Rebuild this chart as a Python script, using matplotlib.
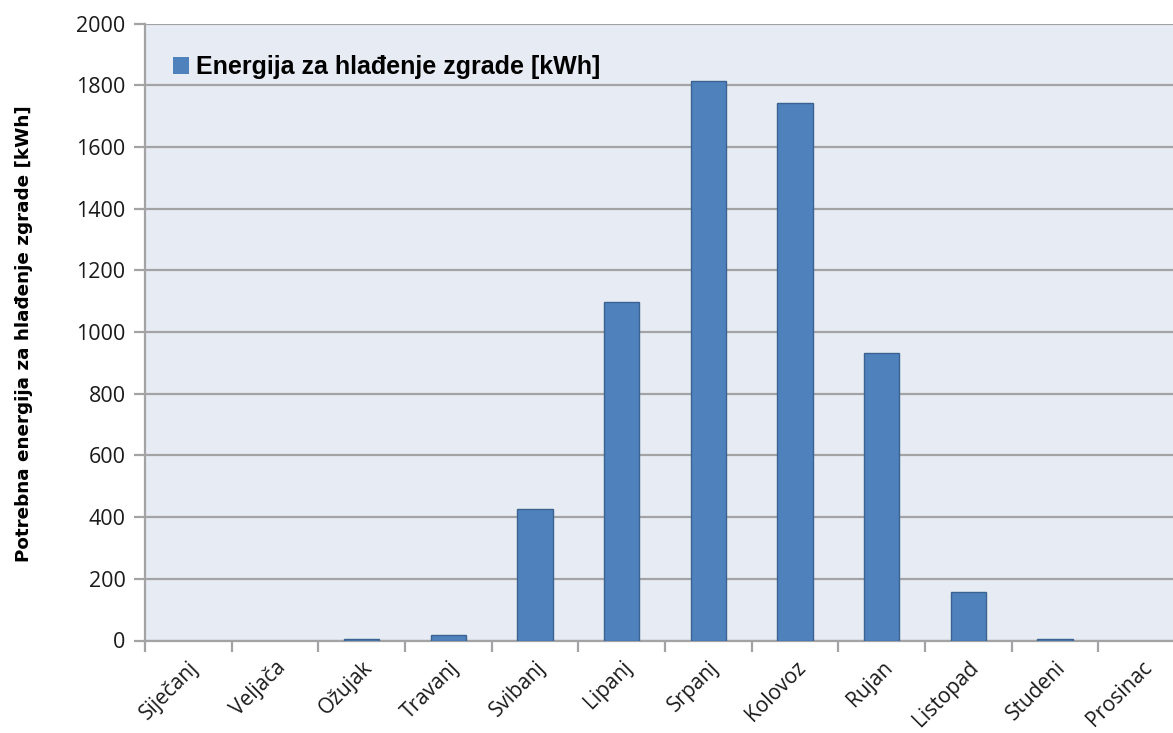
import numpy as np
import matplotlib.pyplot as plt
from matplotlib.ticker import FixedLocator

# Mjesečna potrebna energija za hlađenje zgrade
mjeseci = ["Siječanj", "Veljača", "Ožujak", "Travanj", "Svibanj", "Lipanj",
           "Srpanj", "Kolovoz", "Rujan", "Listopad", "Studeni", "Prosinac"]
energija = [0, 0, 5, 18, 425, 1097, 1813, 1741, 932, 158, 4, 0]

y_ticks = list(range(0, 2001, 200))

fig = plt.figure(figsize=(11.73, 7.33), dpi=100)
ax = fig.add_axes([145 / 1173, 92.5 / 733, 1040 / 1173, 617 / 733])
ax.set_facecolor("#E7EBF3")

x = np.arange(len(mjeseci))
rubovi = ["#3A6391" if e > 0 else "none" for e in energija]
ax.bar(x, energija, width=0.41, color="#4F81BD", edgecolor=rubovi,
       linewidth=1.0, zorder=3, label="Energija za hlađenje zgrade [kWh]")

ax.set_xlim(-0.5, len(mjeseci) - 0.5)
ax.set_ylim(0, 2000)
ax.set_yticks(y_ticks)
ax.grid(axis="y", color="#A3A3A6", linewidth=1.6, zorder=1)

for side in ["top", "right"]:
    ax.spines[side].set_visible(False)
for side in ["left", "bottom"]:
    ax.spines[side].set_color("#A3A3A6")
    ax.spines[side].set_linewidth(1.6)

# crtice na granicama kategorija, nazivi mjeseci u sredini
ax.xaxis.set_minor_locator(FixedLocator(np.arange(-0.5, len(mjeseci), 1.0)))
ax.tick_params(axis="x", which="minor", length=8, width=1.6, color="#A3A3A6")
ax.tick_params(axis="x", which="major", length=0, pad=12)
ax.set_xticks(x)
ax.set_xticklabels(mjeseci, rotation=45, ha="right", va="top",
                   rotation_mode="anchor", fontsize=15, family="Open Sans",
                   color="#1a1a1a")

ax.tick_params(axis="y", length=8, width=1.6, color="#A3A3A6", pad=6)
for lbl in ax.get_yticklabels():
    lbl.set_fontsize(15.5)
    lbl.set_family("Open Sans")
    lbl.set_color("#1a1a1a")

ax.set_ylabel("Potrebna energija za hlađenje zgrade [kWh]", fontsize=13.2,
              fontweight="bold", family="DejaVu Sans")
ax.yaxis.set_label_coords(-0.108, 0.497)

leg = ax.legend(loc="upper left", bbox_to_anchor=(0.005, 0.985), frameon=False,
                prop={"family": "Liberation Sans", "weight": "bold", "size": 18},
                handlelength=0.65, handleheight=0.65, handletextpad=0.3)

fig.savefig("out.png", dpi=100)
